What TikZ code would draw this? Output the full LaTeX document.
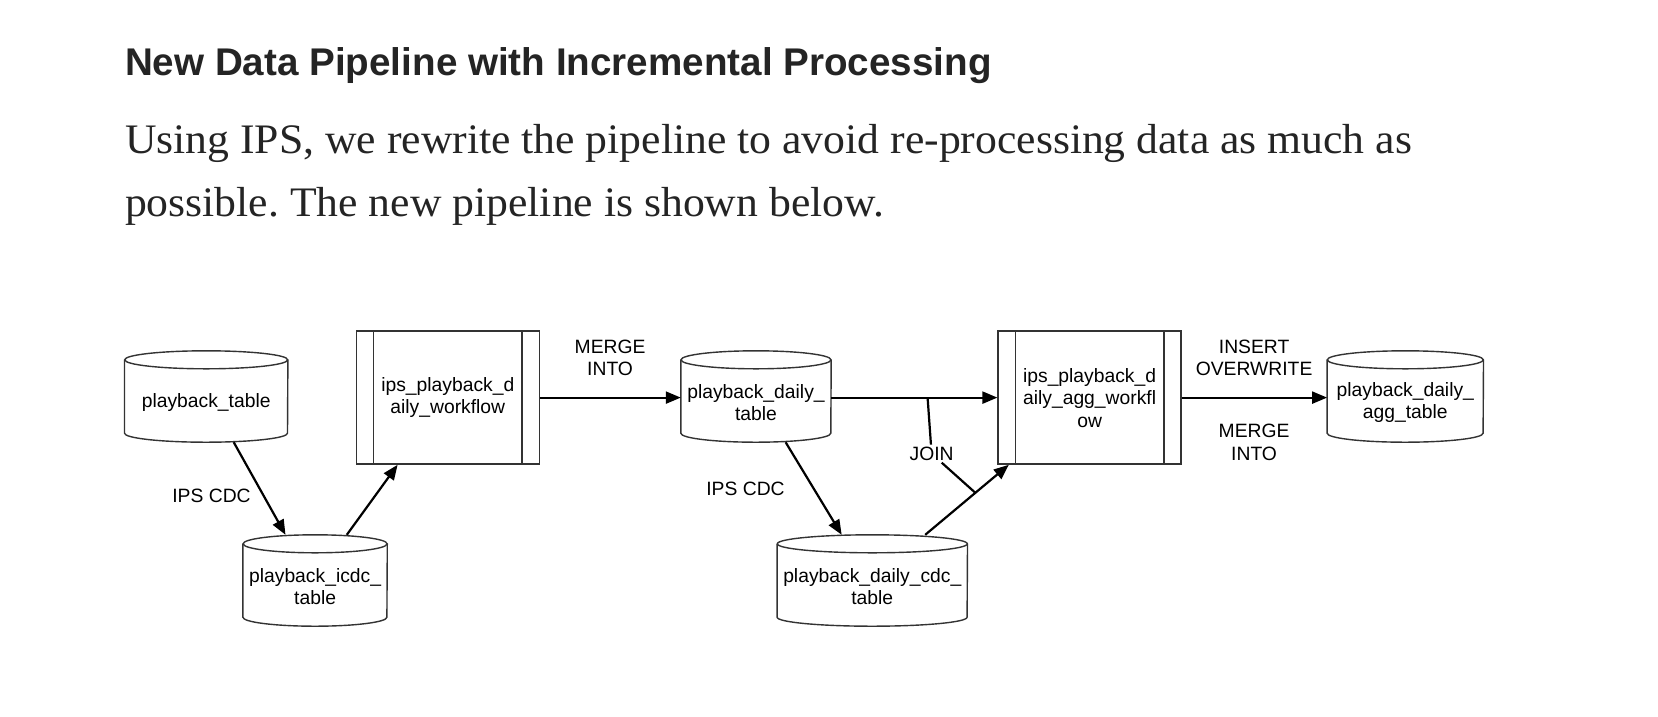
\documentclass[tikz,border=0pt]{standalone}
\usepackage{fontspec}
\setmainfont{Liberation Serif}
\newfontfamily\helv{Liberation Sans}
\usetikzlibrary{arrows.meta}

\definecolor{ink}{HTML}{242424}
\definecolor{edge}{HTML}{333333}
\newcommand{\diagfont}{\helv\fontsize{19.3}{22.5}\selectfont}
\newcommand{\headfont}{\helv\bfseries\fontsize{38.6}{46}\selectfont}
\newcommand{\bodyfont}{\addfontfeature{FakeStretch=1.04}\fontsize{42}{64}\selectfont}
\frenchspacing

\begin{document}
\begin{tikzpicture}[x=1pt,y=1pt,
  shapeline/.style={line width=1.4pt,edge},
  line/.style={line width=2.2pt,black},
  flow/.style={line,-{Triangle[length=15pt,width=12pt]}},
  lbl/.style={font=\diagfont,align=center,inner sep=2pt,text=black},
  db/.style={minimum width=#1pt,minimum height=79pt,inner sep=0pt,align=center,font=\diagfont,
    append after command={\pgfextra{
      \draw[shapeline] ([yshift=3pt]\tikzlastnode.north) ellipse [x radius=#1/2*1pt,y radius=9pt];
      \draw[shapeline] ([yshift=3pt]\tikzlastnode.north west) -- ([yshift=9pt]\tikzlastnode.south west)
        arc [start angle=180,end angle=360,x radius=#1/2*1pt,y radius=9pt] -- ([yshift=3pt]\tikzlastnode.north east);
    }}},
  proc/.style={shapeline,draw,text=black,minimum width=183pt,minimum height=133pt,inner sep=0pt,align=center,font=\diagfont,
    append after command={\pgfextra{
      \draw[shapeline] ([xshift=18pt]\tikzlastnode.north west) -- ([xshift=18pt]\tikzlastnode.south west);
      \draw[shapeline] ([xshift=-18pt]\tikzlastnode.north east) -- ([xshift=-18pt]\tikzlastnode.south east);
    }}}]
\useasboundingbox[fill=white] (0,0) rectangle (1658,-716);

% heading and text
\node[anchor=base west,inner sep=0pt,font=\headfont,text=ink] (title) at (124.8,-75) {New Data Pipeline with Incremental Processing};
\node[anchor=base west,inner sep=0pt,font=\bodyfont,text=ink] (intro1) at (124.8,-153.3) {Using IPS, we rewrite the pipeline to avoid re-processing data as much as};
\node[anchor=base west,inner sep=0pt,font=\bodyfont,text=ink] (intro2) at (124.8,-216.8) {possible. The new pipeline is shown below.};

% tables and workflows
\node[db=163] (pbt) at (206.2,-402.5) {playback\_table};
\node[db=144] (icdc) at (315.1,-586.5) {playback\_icdc\_\\table};
\node[proc] (wf1) at (447.8,-397.6) {ips\_playback\_d\\aily\_workflow};
\node[db=150] (dt) at (756,-402.5) {playback\_daily\_\\table};
\node[db=190] (dcdc) at (872.3,-586.5) {playback\_daily\_cdc\_\\table};
\node[proc] (wf2) at (1089.6,-397.6) {ips\_playback\_d\\aily\_agg\_workfl\\ow};
\node[db=156] (agt) at (1405.3,-402.5) {playback\_daily\_\\agg\_table};

% labels
\node[lbl] (merge1) at (610.1,-357.9) {MERGE\\INTO};
\node[lbl] (insert) at (1254.1,-357.9) {INSERT\\OVERWRITE};
\node[lbl] (merge2) at (1254.1,-442.5) {MERGE\\INTO};
\node[lbl] (join) at (931.6,-453.6) {JOIN};
\node[lbl] (cdc1) at (211.5,-496) {IPS CDC};
\node[lbl] (cdc2) at (745.5,-488.5) {IPS CDC};

% arrows
\draw[flow] (wf1.east) -- (wf1.east -| dt.west);
\draw[flow] (dt.east |- wf2.west) -- coordinate[pos=0.58] (j1) (wf2.west);
\draw[flow] (wf2.east) -- (wf2.east -| agt.west);
\draw[flow] ([xshift=27.5pt]pbt.south) -- ([xshift=-29.6pt,yshift=12pt]icdc.north);
\draw[flow] ([xshift=31.7pt,yshift=12pt]icdc.north) -- ([xshift=-50.2pt]wf1.south);
\draw[flow] ([xshift=29.6pt]dt.south) -- ([xshift=-30.6pt,yshift=12pt]dcdc.north);
\draw[flow] ([xshift=52.9pt,yshift=12pt]dcdc.north) -- coordinate[pos=0.6] (j2) ([xshift=-80.8pt]wf2.south);
\draw[line] (j1) -- (join);
\draw[line] (join) -- (j2);
\end{tikzpicture}
\end{document}
